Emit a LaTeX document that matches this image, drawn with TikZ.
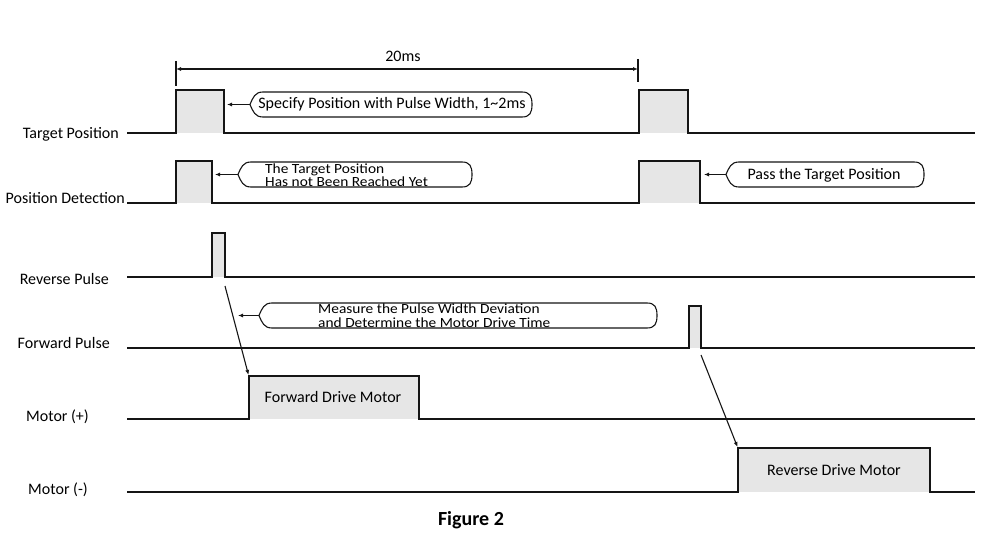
\documentclass[tikz,border=0pt]{standalone}
\usepackage{fontspec}
\setmainfont{Carlito}
\usetikzlibrary{arrows.meta}
\definecolor{pgray}{HTML}{E6E6E6}
\definecolor{ink}{HTML}{151515}
\newcommand\callbox[4]{%
  \draw[co] (#1,{(#3+#4)/2}) .. controls ({#1+3},{(#3+#4)/2-7}) and ({#1+5},#3) .. ({#1+13},#3)
    -- ({#2-10},#3) .. controls ({#2-2},#3) and (#2,{(#3+#4)/2-8}) .. (#2,{(#3+#4)/2})
    .. controls (#2,{(#3+#4)/2+8}) and ({#2-2},#4) .. ({#2-10},#4)
    -- ({#1+13},#4) .. controls ({#1+5},#4) and ({#1+3},{(#3+#4)/2+7}) .. cycle;}
\begin{document}
\begin{tikzpicture}[x=1pt,y=-1pt,
  sig/.style={line width=2pt, line join=miter, draw=ink},
  pbox/.style={fill=pgray, draw=none},
  co/.style={line width=1.1pt, draw=ink},
  ptr/.style={line width=1.1pt, draw=ink, -{Latex[length=5pt,width=4pt]}},
  dim/.style={line width=1.1pt, draw=ink},
  lbl/.style={anchor=east, inner sep=0pt, font=\fontsize{16}{18}\selectfont},
  txt/.style={inner sep=0pt, font=\fontsize{16}{18}\selectfont},
  two/.style={inner sep=0pt, align=left, anchor=west, xscale=1.1, font=\fontsize{14}{13.5}\selectfont}]
\useasboundingbox[fill=white] (0,0) rectangle (1000,545);

% ---- labels
\node[lbl] (lTP) at (119,134) {Target Position};
\node[lbl] (lPD) at (125,198) {Position Detection};
\node[lbl] (lRP) at (109,279) {Reverse Pulse};
\node[lbl] (lFP) at (110,343) {Forward Pulse};
\node[lbl] (lMP) at (89,417) {Motor (+)};
\node[lbl] (lMM) at (88,490) {Motor (-)};

% ---- fills
\fill[pbox] (176,90) rectangle (224,133);
\fill[pbox] (639,90) rectangle (688,133);
\fill[pbox] (176,161) rectangle (212,203);
\fill[pbox] (639,161) rectangle (700,203);
\fill[pbox] (212,233) rectangle (225,277);
\fill[pbox] (689,306) rectangle (701,348);
\fill[pbox] (249,376) rectangle (419,419);
\fill[pbox] (738,448) rectangle (930,492);

% ---- signals
\draw[sig] (127,133) -- (176,133) -- (176,90) -- (224,90) -- (224,133) -- (639,133) -- (639,90) -- (688,90) -- (688,133) -- (975,133);
\draw[sig] (127,203) -- (176,203) -- (176,161) -- (212,161) -- (212,203) -- (639,203) -- (639,161) -- (700,161) -- (700,203) -- (975,203);
\draw[sig] (127,277) -- (212,277) -- (212,233) -- (225,233) -- (225,277) -- (975,277);
\draw[sig] (127,348) -- (689,348) -- (689,306) -- (701,306) -- (701,348) -- (975,348);
\draw[sig] (127,419) -- (249,419) -- (249,376) -- (419,376) -- (419,419) -- (975,419);
\draw[sig] (127,492) -- (738,492) -- (738,448) -- (930,448) -- (930,492) -- (975,492);

% ---- dimension 20ms
\coordinate (d1) at (176,69);
\coordinate (d2) at (638,69);
\draw[dim] (176,61) -- (176,86);
\draw[dim] (638,59) -- (638,82);
\draw[dim, {Latex[length=5pt,width=4pt]}-{Latex[length=5pt,width=4pt]}] (d1) -- (d2);
\node[txt] (t20) at (403,56) {20ms};

% ---- pulse texts
\node[txt] (fdm) at (333,397) {Forward Drive Motor};
\node[txt] (rdm) at (834,470) {Reverse Drive Motor};

% ---- callouts
\callbox{250}{532}{92}{117}
\node[txt] (c1) at (392,104) {Specify Position with Pulse Width, 1\textasciitilde 2ms};
\coordinate (c1p) at (250,104.5);
\coordinate (a1) at (227,104.5);
\draw[ptr] (c1p) -- (a1);

\callbox{238}{472}{162}{187}
\node[two] (c2) at (265,175) {The Target Position\\Has not Been Reached Yet};
\coordinate (c2p) at (238,174.5);
\coordinate (a2) at (215,174.5);
\draw[ptr] (c2p) -- (a2);

\callbox{259}{657}{303}{328}
\node[two] (c3) at (318,315.5) {Measure the Pulse Width Deviation\\and Determine the Motor Drive Time};
\coordinate (c3p) at (259,315.5);
\coordinate (a3) at (238,315.5);
\draw[ptr] (c3p) -- (a3);

\callbox{726}{924}{162}{187}
\node[txt] (c4) at (824,175) {Pass the Target Position};
\coordinate (c4p) at (726,174.5);
\coordinate (a4) at (704,174.5);
\draw[ptr] (c4p) -- (a4);

% ---- diagonal arrows
\coordinate (rpb) at (225,286);
\coordinate (mpt) at (248.5,375);
\draw[ptr] (rpb) -- (mpt);
\coordinate (fpb) at (701,355);
\coordinate (mmt) at (737.5,447);
\draw[ptr] (fpb) -- (mmt);

% ---- caption
\node[txt, font=\fontsize{20}{22}\selectfont\bfseries] (cap) at (471,520) {Figure 2};
\end{tikzpicture}
\end{document}
